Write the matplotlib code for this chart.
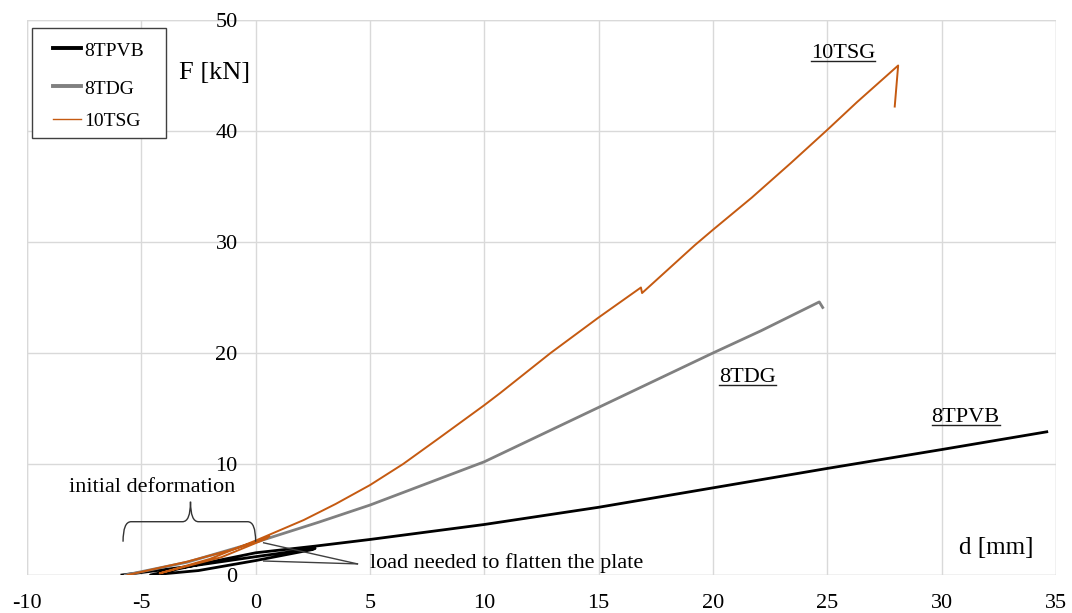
import numpy as np
import matplotlib
matplotlib.use("Agg")
import matplotlib.pyplot as plt
from matplotlib.path import Path
from matplotlib.patches import PathPatch, Rectangle
from matplotlib.lines import Line2D

plt.rcParams['font.family'] = ['Liberation Serif', 'DejaVu Serif']

# data (d in mm, F in kN)
d_8tpvb = [-5.85, -3.0, 0.0, 2.6, 2.5, 0.0, -2.5, -4.6, -2.5, 0.0, 2.6, 5.0, 10.0, 15.0,
           20.0, 25.0, 30.0, 34.6]
f_8tpvb = [0.0, 0.75, 1.65, 2.4, 2.3, 1.3, 0.4, 0.0, 0.95, 2.0, 2.6, 3.2, 4.55, 6.1,
           7.85, 9.6, 11.3, 12.9]

d_8tdg = [-5.7, -3.0, 0.0, 2.75, 5.0, 10.0, 15.0, 20.0, 22.1, 24.65, 24.8]
f_8tdg = [0.0, 1.15, 2.95, 4.75, 6.3, 10.2, 15.1, 20.0, 22.0, 24.6, 24.1]

d_10tsg = [-5.6, -3.0, -1.0, 0.0, 0.6, 0.5, -1.5, -4.2, -2.0, 0.0, 2.1, 3.5, 5.0, 6.45,
           8.0, 10.0, 10.7, 12.9, 15.0, 16.85, 16.9, 19.2, 20.0, 21.7, 23.4, 25.0, 26.3,
           28.1, 27.95]
f_10tsg = [0.0, 1.2, 2.3, 3.0, 3.5, 3.3, 1.6, 0.15, 1.45, 3.1, 4.95, 6.4, 8.1, 10.0,
           12.3, 15.3, 16.4, 20.0, 23.2, 25.9, 25.4, 29.7, 31.1, 34.0, 37.1, 40.1, 42.6,
           45.9, 42.2]

series = ['8TPVB', '8TDG', '10TSG']
colors = ['#000000', '#808080', '#C55A11']
widths = [2.0, 2.0, 1.4]
legend_widths = [2.8, 2.8, 1.0]
label_pos = [(31.05, 14.2), (21.5, 17.8), (25.7, 47.0)]

xticks = np.arange(-10, 36, 5)
yticks = np.arange(0, 51, 10)

W, H = 1072, 613
fig = plt.figure(figsize=(W / 100, H / 100), dpi=100)
ax = fig.add_axes([0.0252, 0.062, 0.9598, 0.9054])

data = [(d_8tpvb, f_8tpvb), (d_8tdg, f_8tdg), (d_10tsg, f_10tsg)]
for (d, f), name, c, lw in zip(data, series, colors, widths):
    ax.plot(d, f, color=c, lw=lw, solid_joinstyle='round', zorder=3)

ax.set_xlim(-10, 35)
ax.set_ylim(0, 50)
ax.set_xticks(xticks)
ax.set_yticks(yticks)
ax.grid(True, color='#d9d9d9', lw=1)
ax.set_axisbelow(True)
for s in ax.spines.values():
    s.set_visible(False)
ax.spines['left'].set_position(('data', 0))
ax.tick_params(axis='both', length=0, labelsize=16)
ax.tick_params(axis='y', pad=13)
ax.tick_params(axis='x', pad=14)
ax.set_xticklabels([str(v) for v in xticks])
ax.axvline(-10, color='#d9d9d9', lw=1, zorder=0)
ax.axvline(35, color='#d9d9d9', lw=1, zorder=0)
ax.axhline(50, color='#d9d9d9', lw=1, zorder=0)
ax.axhline(0, color='#d9d9d9', lw=1, zorder=0)

ax.text(-1.8, 45.2, 'F [kN]', fontsize=19, ha='center', va='center')
ax.text(32.4, 2.4, 'd [mm]', fontsize=18, ha='center', va='center')

# legend drawn by hand (pixel layout of the reference box)
def px(x, y):
    return x / W, 1 - y / H

lx0, ly0 = px(32, 28)
lx1, ly1 = px(166, 138)
fig.add_artist(Rectangle((lx0, ly1), lx1 - lx0, ly0 - ly1, transform=fig.transFigure,
                         fill=True, facecolor='white', edgecolor='#404040', lw=1.0, zorder=5))
for i, (name, c, w) in enumerate(zip(series, colors, legend_widths)):
    yc = [48, 86, 119][i]
    a, b = px(53, yc)
    e, _ = px(81, yc)
    fig.add_artist(Line2D([a, e], [b, b], color=c, lw=w, zorder=6))
    t0, t1 = px(84, yc + 3)
    fig.text(t0, t1, name, fontsize=14, ha='left', va='center', zorder=6)

# series labels (underlined)
lab_texts = []
for name, (x, y) in zip(series, label_pos):
    lab_texts.append(ax.text(x, y, name, fontsize=16, ha='center', va='center'))

# curly brace for initial deformation
x0, x1, xm = -5.8, 0.0, -2.85
yb, yt, ytip = 3.0, 4.8, 6.6
r = 0.35
verts = [(x0, yb), (x0, yt), (x0 + r, yt), (xm - r, yt), (xm, yt), (xm, ytip),
         (xm, yt), (xm + r, yt), (x1 - r, yt), (x1, yt), (x1, yb)]
codes = [Path.MOVETO, Path.CURVE3, Path.CURVE3, Path.LINETO, Path.CURVE3, Path.CURVE3,
         Path.CURVE3, Path.CURVE3, Path.LINETO, Path.CURVE3, Path.CURVE3]
ax.add_patch(PathPatch(Path(verts, codes), fill=False, edgecolor='#333333', lw=1.0, zorder=4))
ax.text(-4.55, 7.9, 'initial deformation', fontsize=16, ha='center', va='center')

# pointer lines for flattening load
ax.plot([4.45, 0.35], [1.0, 2.9], color='#404040', lw=1.0, zorder=4)
ax.plot([4.45, 0.35], [1.0, 1.26], color='#404040', lw=1.0, zorder=4)
ax.text(5.0, 1.05, 'load needed to flatten the plate', fontsize=16, ha='left', va='center')

fig.canvas.draw()
renderer = fig.canvas.get_renderer()
inv = fig.transFigure.inverted()
for t in lab_texts:
    bb = t.get_window_extent(renderer)
    p0 = inv.transform((bb.x0, bb.y0 + 1.5))
    p1 = inv.transform((bb.x1, bb.y0 + 1.5))
    fig.add_artist(Line2D([p0[0], p1[0]], [p0[1], p1[1]], color='#222222', lw=1.0))

fig.savefig('out.png', dpi=100)
